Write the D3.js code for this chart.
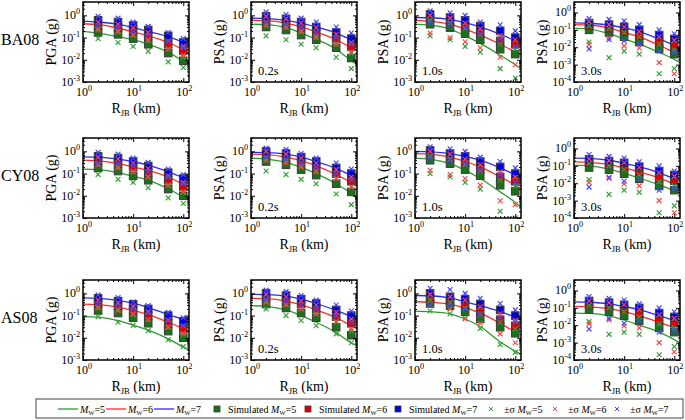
<!DOCTYPE html>
<html><head><meta charset="utf-8">
<script src="https://cdn.jsdelivr.net/npm/d3@7"></script>
<style>body{margin:0;background:#fff}</style>
</head><body><svg id="c" width="685" height="420" font-family="'Liberation Serif','Times New Roman','DejaVu Serif',serif"></svg>
<script>
// ---------- data ----------
const R_LINE=[1,2,5,10,20,50,100,130];
const R_SIM=[2,5,10,20,50,100];
const MODELS=["BA08","CY08","AS08"];
const IMTS=["PGA","0.2s","1.0s","3.0s"];
const X_TICKS=[1,10,100];
const Y_TICKS_3=[1e-3,1e-2,1e-1,1];
const Y_TICKS_4=[1e-4,1e-3,1e-2,1e-1,1];
const MAGS=[5,6,7];

// each: [M5, M6, M7]
const BA08_PGA_LINE=[[0.19,0.16,0.11,0.08,0.05,0.022,0.0085,0.006],[0.42,0.38,0.27,0.18,0.12,0.06,0.028,0.02],[0.55,0.5,0.4,0.28,0.19,0.11,0.06,0.045]];
const BA08_PGA_SIM=[[0.17,0.14,0.09,0.05,0.02,0.009],[0.35,0.28,0.2,0.12,0.05,0.026],[0.6,0.5,0.35,0.22,0.12,0.06]];
const BA08_PGA_UP=[[0.25,0.2,0.13,0.07,0.03,0.013],[0.5,0.4,0.28,0.17,0.07,0.04],[0.9,0.75,0.5,0.32,0.17,0.09]];
const BA08_PGA_LO=[[0.09,0.06,0.04,0.024,0.008,0.0045],[0.22,0.18,0.13,0.08,0.03,0.016],[0.35,0.3,0.2,0.13,0.07,0.035]];

const BA08_02_LINE=[[0.4,0.38,0.28,0.16,0.085,0.03,0.009,0.006],[0.6,0.58,0.45,0.3,0.18,0.08,0.035,0.025],[0.75,0.72,0.6,0.45,0.3,0.16,0.08,0.06]];
const BA08_02_SIM=[[0.3,0.22,0.13,0.08,0.035,0.012],[0.6,0.45,0.3,0.18,0.09,0.04],[0.9,0.7,0.5,0.3,0.17,0.09]];
const BA08_02_UP=[[0.45,0.35,0.2,0.12,0.055,0.02],[0.9,0.7,0.45,0.28,0.14,0.06],[1.4,1.1,0.75,0.5,0.3,0.16]];
const BA08_02_LO=[[0.12,0.08,0.05,0.035,0.013,0.004],[0.35,0.28,0.18,0.1,0.05,0.022],[0.5,0.4,0.3,0.17,0.1,0.05]];

const BA08_10_LINE=[[0.4,0.36,0.24,0.12,0.055,0.016,0.006,0.004],[0.6,0.55,0.4,0.24,0.13,0.05,0.022,0.016],[0.8,0.78,0.65,0.47,0.3,0.14,0.07,0.05]];
const BA08_10_SIM=[[0.4,0.28,0.15,0.08,0.03,0.018],[0.7,0.5,0.3,0.16,0.07,0.05],[1.1,0.8,0.6,0.33,0.2,0.1]];
const BA08_10_UP=[[0.6,0.45,0.25,0.13,0.05,0.03],[1.0,0.75,0.45,0.25,0.12,0.08],[1.6,1.3,1.0,0.5,0.38,0.2]];
const BA08_10_LO=[[0.12,0.08,0.04,0.022,0.004,0.0015],[0.16,0.1,0.065,0.035,0.013,0.006],[0.5,0.4,0.3,0.15,0.09,0.04]];

const BA08_30_LINE=[[0.12,0.11,0.06,0.03,0.015,0.005,0.002,0.0013],[0.2,0.19,0.13,0.07,0.04,0.013,0.005,0.0035],[0.25,0.24,0.19,0.13,0.08,0.03,0.013,0.01]];
const BA08_30_SIM=[[0.1,0.07,0.04,0.02,0.008,0.004],[0.18,0.12,0.08,0.045,0.02,0.012],[0.25,0.2,0.15,0.1,0.05,0.03]];
const BA08_30_UP=[[0.17,0.12,0.07,0.04,0.015,0.007],[0.3,0.2,0.15,0.08,0.04,0.025],[0.45,0.4,0.33,0.2,0.1,0.06]];
const BA08_30_LO=[[0.02,0.0025,0.006,0.004,0.0003,0.0006],[0.014,0.034,0.012,0.009,0.0013,0.0003],[0.008,0.027,0.023,0.017,0.006,0.005]];

const CY08_PGA_LINE=[[0.16,0.15,0.11,0.075,0.05,0.021,0.009,0.007],[0.4,0.37,0.28,0.2,0.14,0.07,0.033,0.025],[0.57,0.55,0.45,0.35,0.24,0.12,0.065,0.05]];
const CY08_PGA_SIM=[[0.18,0.13,0.08,0.05,0.02,0.01],[0.4,0.3,0.2,0.11,0.05,0.026],[0.6,0.5,0.35,0.22,0.11,0.06]];
const CY08_PGA_UP=[[0.25,0.2,0.12,0.07,0.03,0.014],[0.55,0.45,0.3,0.17,0.08,0.04],[0.9,0.75,0.5,0.32,0.16,0.09]];
const CY08_PGA_LO=[[0.09,0.055,0.04,0.023,0.008,0.0045],[0.25,0.18,0.12,0.07,0.03,0.015],[0.3,0.28,0.22,0.12,0.07,0.035]];

const CY08_02_LINE=[[0.5,0.45,0.32,0.19,0.1,0.035,0.013,0.009],[0.75,0.72,0.55,0.38,0.22,0.09,0.04,0.03],[0.9,0.88,0.75,0.55,0.35,0.17,0.08,0.06]];
const CY08_02_SIM=[[0.35,0.25,0.15,0.085,0.035,0.015],[0.7,0.5,0.35,0.2,0.1,0.045],[1.0,0.8,0.55,0.35,0.18,0.1]];
const CY08_02_UP=[[0.5,0.38,0.22,0.13,0.06,0.025],[1.0,0.75,0.5,0.3,0.15,0.07],[1.4,1.2,0.8,0.5,0.3,0.16]];
const CY08_02_LO=[[0.13,0.09,0.055,0.035,0.012,0.004],[0.4,0.3,0.2,0.12,0.06,0.025],[0.55,0.45,0.3,0.2,0.1,0.05]];

const CY08_10_LINE=[[0.5,0.45,0.28,0.14,0.06,0.015,0.005,0.003],[0.8,0.75,0.55,0.35,0.2,0.07,0.03,0.02],[1.0,0.95,0.8,0.6,0.4,0.18,0.09,0.07]];
const CY08_10_SIM=[[0.4,0.28,0.15,0.08,0.03,0.016],[0.7,0.5,0.3,0.16,0.07,0.045],[1.1,0.8,0.6,0.35,0.2,0.1]];
const CY08_10_UP=[[0.6,0.45,0.25,0.13,0.05,0.028],[1.0,0.75,0.45,0.25,0.12,0.07],[1.6,1.3,1.0,0.55,0.35,0.18]];
const CY08_10_LO=[[0.1,0.07,0.04,0.02,0.002,0.001],[0.14,0.09,0.06,0.03,0.006,0.004],[0.5,0.4,0.3,0.15,0.09,0.04]];

const CY08_30_LINE=[[0.11,0.1,0.065,0.037,0.02,0.008,0.0037,0.0028],[0.17,0.16,0.12,0.075,0.045,0.02,0.009,0.007],[0.28,0.27,0.21,0.14,0.09,0.04,0.018,0.014]];
const CY08_30_SIM=[[0.08,0.06,0.035,0.018,0.007,0.004],[0.16,0.12,0.08,0.045,0.02,0.014],[0.24,0.19,0.15,0.09,0.05,0.03]];
const CY08_30_UP=[[0.14,0.1,0.06,0.03,0.012,0.007],[0.25,0.2,0.15,0.08,0.04,0.025],[0.45,0.35,0.28,0.17,0.1,0.05]];
const CY08_30_LO=[[0.016,0.0023,0.004,0.003,0.0002,0.0005],[0.011,0.019,0.009,0.007,0.001,0.0002],[0.006,0.022,0.013,0.018,0.004,0.005]];

const AS08_PGA_LINE=[[0.09,0.085,0.06,0.037,0.022,0.009,0.0038,0.0028],[0.33,0.31,0.24,0.17,0.11,0.05,0.026,0.02],[0.63,0.6,0.48,0.36,0.23,0.11,0.065,0.05]];
const AS08_PGA_SIM=[[0.17,0.13,0.08,0.045,0.02,0.01],[0.35,0.27,0.18,0.1,0.045,0.025],[0.6,0.45,0.32,0.2,0.1,0.055]];
const AS08_PGA_UP=[[0.24,0.19,0.11,0.065,0.03,0.014],[0.5,0.38,0.26,0.15,0.065,0.035],[0.85,0.65,0.42,0.28,0.14,0.08]];
const AS08_PGA_LO=[[0.088,0.05,0.036,0.021,0.008,0.004],[0.22,0.17,0.12,0.065,0.03,0.016],[0.35,0.3,0.2,0.13,0.06,0.035]];

const AS08_02_LINE=[[0.28,0.26,0.18,0.1,0.05,0.017,0.006,0.0045],[0.6,0.58,0.45,0.3,0.18,0.08,0.035,0.026],[0.9,0.88,0.75,0.55,0.35,0.17,0.09,0.07]];
const AS08_02_SIM=[[0.33,0.22,0.13,0.08,0.03,0.013],[0.65,0.5,0.33,0.2,0.09,0.045],[1.0,0.8,0.55,0.35,0.18,0.1]];
const AS08_02_UP=[[0.45,0.32,0.2,0.12,0.05,0.02],[0.9,0.7,0.45,0.3,0.14,0.07],[1.4,1.2,0.8,0.5,0.3,0.16]];
const AS08_02_LO=[[0.2,0.1,0.06,0.035,0.015,0.006],[0.4,0.3,0.2,0.12,0.055,0.025],[0.55,0.45,0.3,0.2,0.1,0.05]];

const AS08_10_LINE=[[0.16,0.15,0.12,0.07,0.032,0.0065,0.0025,0.0018],[0.42,0.4,0.32,0.22,0.13,0.045,0.018,0.013],[0.8,0.78,0.62,0.42,0.28,0.15,0.085,0.07]];
const AS08_10_SIM=[[0.35,0.28,0.15,0.07,0.03,0.016],[0.6,0.45,0.3,0.15,0.065,0.035],[1.0,0.7,0.55,0.33,0.18,0.1]];
const AS08_10_UP=[[0.5,0.4,0.22,0.11,0.05,0.025],[0.9,0.7,0.5,0.25,0.12,0.06],[1.7,1.5,1.0,0.6,0.35,0.18]];
const AS08_10_LO=[[0.16,0.12,0.077,0.026,0.005,0.0022],[0.3,0.2,0.07,0.045,0.015,0.006],[0.3,0.3,0.2,0.12,0.08,0.05]];

const AS08_30_LINE=[[0.05,0.048,0.035,0.02,0.01,0.004,0.0015,0.001],[0.12,0.115,0.09,0.06,0.035,0.015,0.007,0.005],[0.22,0.21,0.17,0.12,0.08,0.035,0.018,0.013]];
const AS08_30_SIM=[[0.08,0.06,0.035,0.018,0.007,0.004],[0.16,0.12,0.08,0.045,0.02,0.013],[0.25,0.2,0.15,0.1,0.05,0.03]];
const AS08_30_UP=[[0.14,0.1,0.06,0.03,0.012,0.007],[0.25,0.2,0.15,0.08,0.04,0.025],[0.45,0.35,0.28,0.17,0.1,0.06]];
const AS08_30_LO=[[0.016,0.003,0.004,0.003,0.0002,0.0006],[0.012,0.02,0.009,0.007,0.001,0.0003],[0.006,0.025,0.013,0.018,0.004,0.005]];

const PANEL_DATA=[
 [[BA08_PGA_LINE,BA08_PGA_SIM,BA08_PGA_UP,BA08_PGA_LO],[BA08_02_LINE,BA08_02_SIM,BA08_02_UP,BA08_02_LO],[BA08_10_LINE,BA08_10_SIM,BA08_10_UP,BA08_10_LO],[BA08_30_LINE,BA08_30_SIM,BA08_30_UP,BA08_30_LO]],
 [[CY08_PGA_LINE,CY08_PGA_SIM,CY08_PGA_UP,CY08_PGA_LO],[CY08_02_LINE,CY08_02_SIM,CY08_02_UP,CY08_02_LO],[CY08_10_LINE,CY08_10_SIM,CY08_10_UP,CY08_10_LO],[CY08_30_LINE,CY08_30_SIM,CY08_30_UP,CY08_30_LO]],
 [[AS08_PGA_LINE,AS08_PGA_SIM,AS08_PGA_UP,AS08_PGA_LO],[AS08_02_LINE,AS08_02_SIM,AS08_02_UP,AS08_02_LO],[AS08_10_LINE,AS08_10_SIM,AS08_10_UP,AS08_10_LO],[AS08_30_LINE,AS08_30_SIM,AS08_30_UP,AS08_30_LO]]
];

// ---------- style / layout ----------
const FONT="'Liberation Serif','Times New Roman','DejaVu Serif',serif";
const LINE_C=["#2f9a2f","#ff2b2b","#2b2bff"];
const SQ_C=["#177317","#dd0000","#0000dd"];
const X_C=["#35a035","#ff4545","#4545ff"];
const COL_X=[83,251,415,574];
const ROW_Y=[2,138,280];
const PW=106, PH=80;

const svg=d3.select("#c");
const defs=svg.append("defs");

function sup(sel,base,exp,fs){
  sel.text(null);
  sel.append("tspan").text(base);
  sel.append("tspan").attr("dy",-5).attr("font-size",fs*0.68).text(exp);
}
function txt(parent){return parent.append("text").attr("font-family",FONT).attr("fill","#000");}

MODELS.forEach((m,ri)=>{
  txt(svg).attr("x",1).attr("y",ROW_Y[ri]+PH/2+3).attr("font-size",16).text(m);
  IMTS.forEach((imt,ci)=>{
    const [LINE,SIM,UP,LO]=PANEL_DATA[ri][ci];
    const left=COL_X[ci], top=ROW_Y[ri];
    const ymin= ci===3?1e-4:1e-3;
    const x=d3.scaleLog().domain([1,130]).range([0,PW]);
    const y=d3.scaleLog().domain([ymin,4]).range([PH,0]);
    const g=svg.append("g").attr("transform",`translate(${left},${top})`);
    const cid=`clip${ri}${ci}`;
    defs.append("clipPath").attr("id",cid).append("rect").attr("width",PW).attr("height",PH);
    const pg=g.append("g").attr("clip-path",`url(#${cid})`);
    const line=d3.line().x((d,i)=>x(R_LINE[i])).y(d=>y(d)).curve(d3.curveMonotoneX);
    LINE.forEach((s,k)=>pg.append("path").attr("d",line(s)).attr("fill","none").attr("stroke",LINE_C[k]).attr("stroke-width",1.3));
    SIM.forEach((s,k)=>{
      pg.selectAll(null).data(s).enter().append("rect")
        .attr("x",(d,i)=>x(R_SIM[i])-3.75).attr("y",d=>y(d)-3.75).attr("width",7.5).attr("height",7.5)
        .attr("fill",SQ_C[k]).attr("stroke","#404040").attr("stroke-width",1.1);
    });
    [UP,LO].forEach(arr=>arr.forEach((s,k)=>{
      pg.selectAll(null).data(s).enter().append("path")
        .attr("transform",(d,i)=>`translate(${x(R_SIM[i])},${y(d)})`)
        .attr("d","M-2.4,-2.4L2.4,2.4M-2.4,2.4L2.4,-2.4").attr("stroke",X_C[k]).attr("stroke-width",1.2).attr("fill","none");
    }));
    // axes
    const yt= ci===3?Y_TICKS_4:Y_TICKS_3;
    const xMinor=[];[1,10,100].forEach(b=>{for(let j=2;j<=9;j++){const v=b*j;if(v<=130)xMinor.push(v);}});
    const yMinor=[];yt.forEach(b=>{for(let j=2;j<=9;j++){const v=b*j;if(v<=4)yMinor.push(v);}});
    const ax=(gen,tv,size)=>gen.tickValues(tv).tickSize(size).tickSizeOuter(0).tickFormat("");
    const addAxis=(gen,tr)=>{const a=g.append("g").attr("transform",tr).call(gen);a.select(".domain").remove();a.selectAll("line").attr("stroke","#000");return a;};
    addAxis(ax(d3.axisBottom(x),X_TICKS,-4),`translate(0,${PH})`);
    addAxis(ax(d3.axisBottom(x),xMinor,-2),`translate(0,${PH})`);
    addAxis(ax(d3.axisTop(x),X_TICKS,-4),`translate(0,0)`);
    addAxis(ax(d3.axisTop(x),xMinor,-2),`translate(0,0)`);
    addAxis(ax(d3.axisLeft(y),yt,-4),`translate(0,0)`);
    addAxis(ax(d3.axisLeft(y),yMinor,-2),`translate(0,0)`);
    addAxis(ax(d3.axisRight(y),yt,-4),`translate(${PW},0)`);
    addAxis(ax(d3.axisRight(y),yMinor,-2),`translate(${PW},0)`);
    g.append("rect").attr("width",PW).attr("height",PH).attr("fill","none").attr("stroke","#000").attr("stroke-width",1.5);
    // tick labels
    X_TICKS.forEach(v=>{
      const t=txt(g).attr("x",x(v)+1).attr("y",PH+14).attr("font-size",12).attr("text-anchor","middle");
      sup(t,"10",String(Math.round(Math.log10(v))),12);
    });
    yt.forEach(v=>{
      const t=txt(g).attr("x",-3).attr("y",y(v)+4).attr("font-size",12).attr("text-anchor","end");
      sup(t,"10",String(Math.round(Math.log10(v))),12);
    });
    // axis titles
    const xl=txt(g).attr("x",PW/2).attr("y",PH+31).attr("font-size",14).attr("text-anchor","middle");
    xl.append("tspan").text("R");
    xl.append("tspan").attr("font-size",8.5).attr("dy",3).text("JB");
    xl.append("tspan").attr("dy",-3).text(" (km)");
    txt(g).attr("transform",`translate(-27,${PH/2}) rotate(-90)`).attr("font-size",14).attr("text-anchor","middle")
      .text(ci===0?"PGA (g)":"PSA (g)");
    if(ci>0) txt(g).attr("x",7).attr("y",PH-7).attr("font-size",12.5).text(imt);
  });
});

// ---------- legend ----------
const LG_Y=409;
svg.append("rect").attr("x",36).attr("y",399).attr("width",647).attr("height",19).attr("fill","#fff").attr("stroke","#444").attr("stroke-width",1);
function mwText(x0,prefix,mag){
  const t=txt(svg).attr("x",x0).attr("y",LG_Y+3.5).attr("font-size",10);
  if(prefix) t.append("tspan").text(prefix);
  t.append("tspan").attr("font-style","italic").text("M");
  t.append("tspan").attr("font-size",6.5).attr("dy",2).text("W");
  t.append("tspan").attr("dy",-2).text("="+mag);
}
const LEG_LINE_X=[58,106,154];
MAGS.forEach((mg,k)=>{
  svg.append("line").attr("x1",LEG_LINE_X[k]).attr("x2",LEG_LINE_X[k]+20).attr("y1",LG_Y).attr("y2",LG_Y).attr("stroke",LINE_C[k]).attr("stroke-width",1.3);
  mwText(LEG_LINE_X[k]+22,"",mg);
});
const LEG_SQ_X=[217,308,398];
MAGS.forEach((mg,k)=>{
  svg.append("rect").attr("x",LEG_SQ_X[k]-3).attr("y",LG_Y-3).attr("width",6).attr("height",6).attr("fill",SQ_C[k]).attr("stroke","#3a3a3a").attr("stroke-width",0.8);
  mwText(LEG_SQ_X[k]+11,"Simulated ",mg);
});
const LEG_X_X=[491,555,617];
MAGS.forEach((mg,k)=>{
  svg.append("path").attr("transform",`translate(${LEG_X_X[k]},${LG_Y})`).attr("d","M-2,-2L2,2M-2,2L2,-2").attr("stroke",X_C[k]).attr("stroke-width",1).attr("fill","none");
  mwText(LEG_X_X[k]+13,"±σ ",mg);
});
</script></body></html>
